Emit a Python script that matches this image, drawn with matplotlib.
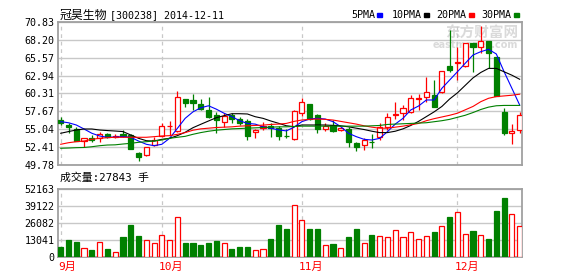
import numpy as np
import matplotlib
matplotlib.use('Agg')
import matplotlib.pyplot as plt
from matplotlib.patches import Rectangle

# daily K-line, 2014-09 .. 2014-12-11
opens = [56.40, 55.67, 55.03, 53.36, 53.80, 53.71, 54.30, 53.86, 54.30, 54.20,
         51.50, 51.25, 52.72, 54.05, 55.45, 54.83, 59.50, 59.35, 58.76, 57.88,
         57.14, 56.07, 57.10, 56.60, 56.25, 54.60, 55.30, 55.55, 55.30, 54.10,
         53.65, 57.40, 58.76, 57.14, 55.10, 55.67, 54.93, 55.10, 52.97, 52.68,
         53.20, 53.95, 55.42, 57.20, 57.48, 57.63, 59.50, 59.84, 60.08, 60.57,
         64.35, 64.75, 64.40, 67.78, 67.10, 68.08, 65.70, 57.60, 54.45, 55.00]
highs = [56.80, 55.92, 55.33, 53.75, 54.20, 54.60, 54.45, 54.30, 54.90, 54.40,
         51.74, 52.45, 53.95, 56.00, 56.26, 60.72, 59.54, 60.23, 59.50, 59.80,
         57.60, 57.39, 57.39, 56.84, 56.55, 55.10, 56.10, 55.90, 55.50, 55.10,
         57.90, 59.65, 58.80, 57.29, 55.90, 56.40, 55.25, 55.40, 53.21, 53.80,
         54.40, 55.92, 57.40, 59.10, 58.61, 60.08, 60.19, 62.78, 62.29, 63.62,
         69.65, 67.20, 67.78, 67.78, 70.30, 68.08, 65.72, 58.12, 55.80, 57.54]
lows = [55.60, 54.44, 53.31, 52.47, 53.20, 53.10, 53.71, 53.71, 53.95, 52.10,
        50.41, 51.10, 52.62, 53.86, 54.20, 54.68, 58.36, 57.88, 57.88, 56.70,
        54.45, 55.35, 55.92, 55.67, 53.46, 53.80, 55.00, 53.95, 53.50, 53.70,
        53.50, 56.95, 56.40, 54.45, 54.85, 54.68, 54.83, 52.50, 51.88, 52.00,
        52.35, 53.46, 55.00, 56.50, 56.40, 57.39, 57.88, 59.10, 58.27, 60.33,
        63.51, 62.29, 64.25, 63.51, 66.22, 64.01, 59.94, 54.20, 52.80, 54.53]
closes = [56.01, 55.42, 53.31, 53.71, 53.46, 54.35, 53.86, 54.10, 54.10, 52.10,
          51.00, 52.38, 53.46, 55.52, 55.55, 59.74, 58.95, 58.95, 58.07, 56.89,
          56.45, 57.00, 56.60, 55.90, 54.08, 55.00, 55.50, 55.30, 54.10, 54.00,
          57.70, 59.05, 56.50, 55.03, 55.50, 54.83, 55.18, 53.10, 52.38, 53.46,
          53.10, 55.42, 56.90, 57.35, 58.12, 59.60, 59.65, 60.57, 58.27, 63.62,
          63.76, 65.00, 67.78, 67.19, 68.06, 66.22, 60.00, 54.45, 54.72, 57.14]
volumes = [7700, 13100, 11560, 6700, 5400, 11300, 6200, 3600, 15400, 24700,
           16200, 12850, 10500, 16700, 12850, 30600, 10800, 10800, 9250, 10800,
           12300, 10800, 6200, 7700, 7700, 5100, 5900, 13900, 24700, 21600,
           39800, 28300, 21600, 21600, 9000, 10000, 6700, 15400, 21600, 10800,
           17000, 15900, 15200, 20600, 15200, 19000, 13600, 15900, 19300, 23600,
           30800, 34400, 17500, 20000, 16700, 13900, 35500, 45500, 33100, 23600]

ma5 = [56.16, 56.00, 55.67, 55.08, 54.45, 54.05, 53.86, 53.90, 53.95, 53.86,
       53.31, 52.83, 52.62, 52.83, 53.71, 55.18, 56.65, 57.60, 58.20, 58.50,
       58.00, 57.40, 56.90, 56.30, 55.90, 55.80, 55.40, 55.20, 54.95, 54.80,
       55.35, 56.16, 56.55, 56.65, 56.55, 56.16, 55.42, 54.45, 53.95, 53.56,
       53.46, 53.70, 54.68, 55.80, 56.65, 57.88, 58.46, 59.35, 59.35, 61.07,
       62.29, 63.51, 64.75, 65.97, 66.46, 66.81, 66.12, 63.51, 61.07, 58.61]
ma10 = [54.45, 54.70, 54.93, 55.08, 55.08, 54.93, 54.85, 54.78, 54.70, 54.20,
        53.71, 53.36, 53.30, 53.56, 53.71, 54.10, 54.60, 55.27, 55.77, 56.26,
        56.74, 57.04, 57.33, 57.33, 57.29, 56.89, 56.65, 56.26, 55.92, 55.56,
        55.42, 55.67, 55.67, 55.67, 55.67, 55.60, 55.55, 55.40, 55.20, 55.00,
        54.75, 54.55, 54.55, 54.75, 55.10, 55.60, 56.20, 56.90, 57.60, 58.40,
        59.50, 60.40, 61.50, 62.60, 63.40, 64.00, 64.00, 63.50, 63.00, 62.40]
ma20 = [52.83, 53.06, 53.21, 53.31, 53.56, 53.71, 53.80, 53.86, 53.86, 53.86,
        53.86, 53.86, 53.95, 54.05, 54.10, 54.30, 54.55, 54.90, 55.10, 55.20,
        55.30, 55.35, 55.40, 55.50, 55.55, 55.60, 55.65, 55.75, 55.80, 55.90,
        56.20, 56.40, 56.50, 56.55, 56.50, 56.40, 56.20, 56.00, 55.80, 55.55,
        55.35, 55.20, 55.20, 55.35, 55.50, 55.70, 55.90, 56.30, 56.60, 56.85,
        57.10, 57.40, 57.90, 58.40, 59.10, 59.60, 59.85, 59.95, 60.05, 60.20]
ma30 = [52.24, 52.28, 52.33, 52.36, 52.47, 52.62, 52.72, 52.75, 52.87, 52.97,
        53.12, 53.21, 53.31, 53.46, 53.71, 53.86, 54.00, 54.30, 54.55, 54.75,
        54.90, 55.00, 55.10, 55.15, 55.20, 55.25, 55.30, 55.35, 55.40, 55.40,
        55.45, 55.50, 55.50, 55.50, 55.50, 55.50, 55.50, 55.50, 55.50, 55.50,
        55.55, 55.60, 55.75, 55.80, 55.85, 55.90, 55.95, 56.00, 56.15, 56.30,
        56.50, 56.80, 57.10, 57.50, 57.95, 58.30, 58.50, 58.55, 58.55, 58.55]

month_labels = ['9月', '10月', '11月', '12月']
month_idx = [0, 13, 31, 51]
price_ticks = [49.78, 52.41, 55.04, 57.67, 60.31, 62.94, 65.57, 68.20, 70.83]
vol_ticks = [0, 13041, 26082, 39122, 52163]

RED = '#ff0000'
GREEN = '#008000'
GRID = '#c8c8c8'
FRAME = '#a0a0a0'
MONO = ['DejaVu Sans Mono', 'Noto Sans CJK SC']

W, H = 578, 276
fig = plt.figure(figsize=(W / 100, H / 100), dpi=100, facecolor='white')
ax1 = fig.add_axes([58 / W, 1 - 165 / H, 464 / W, 143 / H])
ax2 = fig.add_axes([58 / W, 1 - 257 / H, 464 / W, 68 / H])

x = np.arange(len(closes))

# price panel
for i in x:
    up = closes[i] >= opens[i]
    col = RED if up else GREEN
    ax1.vlines(i, lows[i], highs[i], color=col, lw=0.9, zorder=2)
    lo = min(opens[i], closes[i])
    h = max(abs(closes[i] - opens[i]), 0.04)
    ax1.bar(i, h, bottom=lo, width=0.66, facecolor='white' if up else GREEN,
            edgecolor=col, lw=0.9, zorder=3)

ax1.plot(x, ma5, color='#0000ff', lw=0.8, zorder=4)
ax1.plot(x, ma10, color='black', lw=0.8, zorder=4)
ax1.plot(x, ma20, color=RED, lw=0.8, zorder=4)
ax1.plot(x, ma30, color=GREEN, lw=0.8, zorder=4)

ax1.set_ylim(price_ticks[0], price_ticks[-1])
ax1.set_yticks(price_ticks)
ax1.set_yticklabels(['%.2f' % v for v in price_ticks])

# volume panel
vcols = [RED if closes[i] >= opens[i] else GREEN for i in x]
vface = ['white' if c == RED else GREEN for c in vcols]
ax2.bar(x, volumes, width=0.66, color=vface, edgecolor=vcols, lw=0.9, zorder=3)
ax2.set_ylim(0, vol_ticks[-1])
ax2.set_yticks(vol_ticks)
ax2.set_yticklabels([str(v) for v in vol_ticks])

for ax in (ax1, ax2):
    ax.set_xlim(-0.35, 59.3)
    ax.set_xticks([])
    ax.set_axisbelow(True)
    ax.grid(axis='y', color=GRID, lw=1)
    for m in month_idx:
        ax.axvline(m, color=GRID, lw=0.9, ls=(0, (3, 3)), zorder=1)
    for s in ax.spines.values():
        s.set_color(FRAME)
        s.set_linewidth(1.3)
    ax.tick_params(axis='y', length=0, pad=2.5, labelsize=7.2)
    for t in ax.get_yticklabels():
        t.set_family(MONO)

for lab, m in zip(month_labels, month_idx):
    ax2.annotate(lab, xy=(m, 0), xycoords=('data', 'axes fraction'),
                 xytext=(-2, -3.5), textcoords='offset points',
                 ha='left', va='top', color=RED, fontsize=8, family=MONO)

# watermark
ax1.text(0.834, 0.927, '东方财富网', transform=ax1.transAxes, fontsize=10.5,
         fontweight='bold', color='#dadada', va='center', ha='left',
         family='Noto Sans CJK SC', zorder=0.5)
ax1.text(0.808, 0.839, 'eastmoney.com', transform=ax1.transAxes, fontsize=7,
         fontweight='bold', color='#dadada', va='center', ha='left', zorder=0.5)

# title and legend
fig.text(60 / W, 1 - 15.5 / H, '冠昊生物', fontsize=8.6, va='center', ha='left',
         family='Noto Sans CJK SC')
fig.text(110.5 / W, 1 - 15.5 / H, '[300238] 2014-12-11', fontsize=7.2,
         va='center', ha='left', family=MONO)

leg_names = ['5PMA', '10PMA', '20PMA', '30PMA']
leg_colors = ['#0000ff', 'black', RED, GREEN]
leg_text_x = [351.6, 391.4, 436.3, 481.6]
leg_mark_x = [377.4, 424.0, 468.7, 513.6]
for name, c, tx, mx in zip(leg_names, leg_colors, leg_text_x, leg_mark_x):
    fig.text(tx / W, 1 - 15.5 / H, name, fontsize=7.2, va='center', ha='left',
             family=MONO)
    fig.patches.append(Rectangle((mx / W, 1 - 16.5 / H), 5 / W, 3 / H,
                                 transform=fig.transFigure, color=c))

fig.text(60 / W, 1 - 177.5 / H, '成交量:27843 手', fontsize=7.8, va='center',
         ha='left', family=MONO)

fig.savefig('out.png', dpi=100, facecolor='white')
